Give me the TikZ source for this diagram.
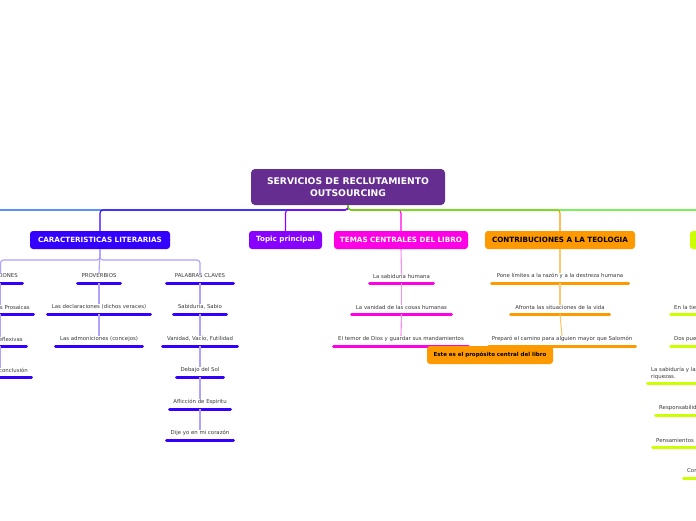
\documentclass[tikz,border=0pt]{standalone}
\usepackage{fontspec}
\setmainfont{DejaVu Sans}
\definecolor{mainc}{HTML}{662D91}
\definecolor{bluec}{HTML}{3300FF}
\definecolor{blueL}{HTML}{0055FF}
\definecolor{lavc}{HTML}{B0A0FF}
\definecolor{violc}{HTML}{8800FF}
\definecolor{magc}{HTML}{FF00E6}
\definecolor{pinkL}{HTML}{FF8CF0}
\definecolor{orac}{HTML}{FF9900}
\definecolor{oraL}{HTML}{FFC870}
\definecolor{grnc}{HTML}{CCFF00}
\definecolor{grnL}{HTML}{33EE00}
\definecolor{txtc}{HTML}{3A3A3A}
\newcommand{\mitem}[6]{%
  \node[lbl] (#1) at ({(#2+#3)/2},{#4-7}) {#6};
  \coordinate (#1u) at ({(#2+#3)/2},#4);
  \draw[uline,#5] ({#2+1.5},#4) -- ({#3-1.5},#4);
}
\begin{document}
\begin{tikzpicture}[x=1pt,y=-1pt,
  topicbox/.style={rounded corners=3pt, inner sep=0pt, minimum height=18pt,
     font=\fontsize{7.2}{8}\selectfont\bfseries, text=white},
  lbl/.style={inner sep=0pt, font=\fontsize{5.4}{7}\selectfont, text=txtc},
  uline/.style={line width=3pt, line cap=round},
  conn/.style={line width=1.1pt, rounded corners=3pt}]
\useasboundingbox (0,0) rectangle (696,520);
\clip (0,0) rectangle (696,520);
\fill[white] (0,0) rectangle (696,520);

% main
\node[fill=mainc, rounded corners=4pt, minimum width=194pt, minimum height=36pt,
  inner sep=0pt, align=center, text=white,
  font=\fontsize{9.2}{11.5}\selectfont\bfseries] (main) at (348,187)
  {SERVICIOS DE RECLUTAMIENTO\\OUTSOURCING};

% first level
\node[topicbox, fill=bluec, minimum width=140pt] (car) at (100,240) {CARACTERISTICAS LITERARIAS};
\node[topicbox, fill=violc, minimum width=73pt] (top) at (285.5,240) {Topic principal};
\node[topicbox, fill=magc, minimum width=134pt] (tem) at (401,240) {TEMAS CENTRALES DEL LIBRO};
\node[topicbox, fill=orac, text=black, minimum width=150pt] (con) at (560,240) {CONTRIBUCIONES A LA TEOLOGIA};
\node[topicbox, fill=grnc, minimum width=150pt] (grn) at (765,240) {};

\coordinate (mj) at (348,210);
\coordinate (offl) at (-10,210);
\coordinate (offr) at (710,210);
\draw[conn,blueL] (main.south) -- (mj) -- (offl);
\draw[conn,bluec] (main.south) -- (mj) -| (car.north);
\draw[conn,violc] (main.south) -- (mj) -| (top.north);
\draw[conn,magc] (main.south) -- (mj) -| (tem.north);
\draw[conn,orac] (main.south) -- (mj) -| (con.north);
\draw[conn,grnL] (main.south) -- (mj) -- (offr);

% CARACTERISTICAS: left column (clipped)
\node[lbl,anchor=east] (sec) at (18,276) {SECCIONES};
\draw[uline,bluec] (-30,283) -- (22.5,283);
\coordinate (secu) at (0.5,283);
\node[lbl,anchor=east] (pros) at (30,307) {Las Porciones Prosaicas};
\draw[uline,bluec] (-40,314) -- (33.5,314);
\coordinate (prosu) at (0.5,314);
\node[lbl,anchor=east] (refl) at (23,339) {Las Porciones Reflexivas};
\draw[uline,bluec] (-40,346) -- (26.5,346);
\coordinate (reflu) at (0.5,346);
\node[lbl,anchor=east] (conc) at (28,370) {La conclusión};
\draw[uline,bluec] (-40,377) -- (31.5,377);

% PROVERBIOS column
\mitem{pro}{76}{122}{283}{bluec}{PROVERBIOS}
\mitem{dec}{46}{152}{314}{bluec}{Las declaraciones (dichos veraces)}
\mitem{adm}{54}{144}{346}{bluec}{Las admoniciones (concejos)}

% PALABRAS CLAVES column
\mitem{pal}{165}{235}{283}{bluec}{PALABRAS CLAVES}
\mitem{sab}{172}{228}{314}{bluec}{Sabiduría, Sabio}
\mitem{vac}{161}{239}{346}{bluec}{Vanidad, Vacío, Futilidad}
\mitem{sol}{175}{225}{377}{bluec}{Debajo del Sol}
\mitem{afl}{168}{232}{409}{bluec}{Aflicción de Espiritu}
\mitem{dij}{165}{235}{440}{bluec}{Dije yo en mi corazón}

\coordinate (cj) at (100,260);
\draw[conn,lavc] (car.south) -- (cj) -| (pal.north);
\draw[conn,lavc] (car.south) -- (cj) -| (secu |- sec.north);
\draw[conn,lavc] (car.south) -- (pro.north);
\draw[conn,lavc] (secu) -- (secu |- pros.north);
\draw[conn,lavc] (prosu) -- (prosu |- refl.north);
\draw[conn,lavc] (reflu) -- (reflu |- conc.north);
\draw[conn,lavc] (prou) -- (dec.north);
\draw[conn,lavc] (decu) -- (adm.north);
\draw[conn,lavc] (palu) -- (sab.north);
\draw[conn,lavc] (sabu) -- (vac.north);
\draw[conn,lavc] (vacu) -- (sol.north);
\draw[conn,lavc] (solu) -- (afl.north);
\draw[conn,lavc] (aflu) -- (dij.north);

% TEMAS column
\mitem{hum}{368}{435}{283}{magc}{La sabiduría humana}
\mitem{van}{350}{453}{314}{magc}{La vanidad de las cosas humanas}
\mitem{tdi}{332}{470}{346}{magc}{El temor de Dios y guardar sus mandamientos}
\draw[conn,pinkL] (tem.south) -- (hum.north);
\draw[conn,pinkL] (humu) -- (van.north);
\draw[conn,pinkL] (vanu) -- (tdi.north);

% CONTRIBUCIONES column
\mitem{lim}{490}{630}{283}{orac}{Pone límites a la razón y a la destreza humana}
\mitem{afr}{509}{611}{314}{orac}{Afronta las situaciones de la vida}
\mitem{pre}{487}{637}{346}{orac}{Preparó el camino para alguien mayor que Salomón}
\draw[conn,oraL] (con.south) -- (lim.north);
\draw[conn,oraL] (limu) -- (afr.north);
\draw[conn,oraL] (afru) -- (pre.north);

% floating callout
\node[rounded corners=3pt, fill=orac, minimum width=126pt, minimum height=18pt, inner sep=0pt,
  font=\fontsize{5.5}{6.5}\selectfont\bfseries, text=black] (cal) at (490,355)
  {Este es el propósito central del libro};

% green column (clipped)
\node[lbl,anchor=west] (g1) at (674,307) {En la tierra};
\draw[uline,grnc] (670.5,314) -- (740,314);
\node[lbl,anchor=west] (g2) at (674,339) {Dos pueden más};
\draw[uline,grnc] (670.5,346) -- (740,346);
\node[lbl,anchor=west,align=left] (g3) at (651,373.5) {La sabiduría y las\\riquezas.};
\draw[uline,grnc] (647.5,383) -- (740,383);
\node[lbl,anchor=west] (g4) at (659,408) {Responsabilidad};
\draw[uline,grnc] (655.5,415) -- (740,415);
\node[lbl,anchor=west] (g5) at (656,440) {Pensamientos};
\draw[uline,grnc] (652.5,447) -- (740,447);
\node[lbl,anchor=west] (g6) at (687,471) {Consejos};
\draw[uline,grnc] (683.5,478) -- (740,478);
\end{tikzpicture}
\end{document}
